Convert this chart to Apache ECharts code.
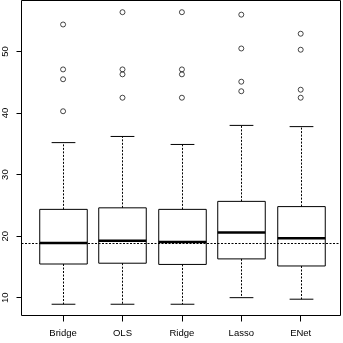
<!DOCTYPE html>
<html><head><meta charset="utf-8">
<script src="https://cdn.jsdelivr.net/npm/echarts@6/dist/echarts.min.js"></script>
<style>html,body{margin:0;padding:0;background:#fff}#c{width:343px;height:343px}</style>
</head><body><div id="c"></div>
<script>
const categories = ['Bridge', 'OLS', 'Ridge', 'Lasso', 'ENet'];
const lowerWhisker = [8.93, 8.93, 8.93, 10.0, 9.75];
const q1 = [15.47, 15.6, 15.4, 16.3, 15.15];
const median = [18.9, 19.25, 19.05, 20.6, 19.65];
const q3 = [24.35, 24.6, 24.35, 25.65, 24.8];
const upperWhisker = [35.2, 36.2, 34.9, 38.0, 37.8];
const outliers = [
  [54.4, 47.1, 45.5, 40.3],
  [56.4, 47.1, 46.3, 42.5],
  [56.4, 47.1, 46.3, 42.5],
  [56.0, 50.5, 45.1, 43.55],
  [52.9, 50.3, 43.8, 42.5]
];
const referenceLine = 18.85;
const yTicks = [10, 20, 30, 40, 50];
const xTicks = [1, 2, 3, 4, 5];

const boxData = categories.map((c, i) => [i + 1, lowerWhisker[i], q1[i], median[i], q3[i], upperWhisker[i]]);
const outlierData = [];
outliers.forEach((arr, i) => arr.forEach(v => outlierData.push([i + 1, v])));

const chart = echarts.init(document.getElementById('c'), null, {renderer: 'canvas'});
const dash = [2, 1.5];
chart.setOption({
  animation: false,
  backgroundColor: '#fff',
  grid: {left: 21.5, right: 2.5, top: 0.5, bottom: 27.5, show: true, borderColor: '#000', borderWidth: 1, backgroundColor: 'transparent'},
  xAxis: {
    type: 'value', min: 0.3, max: 5.67,
    axisLine: {show: false},
    splitLine: {show: false},
    axisTick: {show: true, length: 6, customValues: xTicks, lineStyle: {color: '#000', width: 1}},
    axisLabel: {show: true, customValues: xTicks, margin: 13, color: '#000', fontSize: 9.5, fontFamily: 'Liberation Sans',
      formatter: v => categories[Math.round(v) - 1]}
  },
  yAxis: {
    type: 'value', min: 7.1, max: 58.3,
    axisLine: {show: false},
    splitLine: {show: false},
    axisTick: {show: true, length: 5, customValues: yTicks, lineStyle: {color: '#000', width: 1}},
    axisLabel: {show: true, customValues: yTicks, rotate: 90, margin: 11, color: '#000', fontSize: 9.5, fontFamily: 'Liberation Sans'}
  },
  series: [
    {
      type: 'custom',
      data: boxData,
      encode: {x: 0, y: [1, 2, 3, 4, 5]},
      renderItem: function (params, api) {
        const x = api.value(0);
        const lo = api.coord([x, api.value(1)]);
        const b1 = api.coord([x, api.value(2)]);
        const md = api.coord([x, api.value(3)]);
        const b3 = api.coord([x, api.value(4)]);
        const hi = api.coord([x, api.value(5)]);
        const hw = api.size([0.4, 0])[0];
        const cw = api.size([0.2, 0])[0];
        const cx = Math.round(lo[0]) + 0.5;
        const st = {stroke: '#000', lineWidth: 1, fill: null};
        const ds = {stroke: '#000', lineWidth: 1, lineDash: dash, fill: null};
        return {
          type: 'group',
          children: [
            {type: 'line', shape: {x1: cx, y1: b3[1], x2: cx, y2: hi[1]}, style: ds},
            {type: 'line', shape: {x1: cx, y1: b1[1], x2: cx, y2: lo[1]}, style: ds},
            {type: 'line', shape: {x1: cx - cw, y1: hi[1], x2: cx + cw, y2: hi[1]}, style: st},
            {type: 'line', shape: {x1: cx - cw, y1: lo[1], x2: cx + cw, y2: lo[1]}, style: st},
            {type: 'rect', shape: {x: cx - hw, y: b3[1], width: 2 * hw, height: b1[1] - b3[1]}, style: {stroke: '#000', lineWidth: 1, fill: null}},
            {type: 'line', shape: {x1: cx - hw, y1: md[1], x2: cx + hw, y2: md[1]}, style: {stroke: '#000', lineWidth: 2.5}}
          ]
        };
      },
      markLine: {
        silent: true, symbol: 'none', label: {show: false},
        lineStyle: {color: '#000', width: 1, type: dash},
        data: [{yAxis: referenceLine}]
      },
      z: 2
    },
    {
      type: 'scatter',
      data: outlierData,
      symbol: 'circle',
      symbolSize: 5,
      itemStyle: {color: 'rgba(0,0,0,0)', borderColor: '#000', borderWidth: 0.9},
      z: 3
    }
  ]
});
</script>
</body></html>
